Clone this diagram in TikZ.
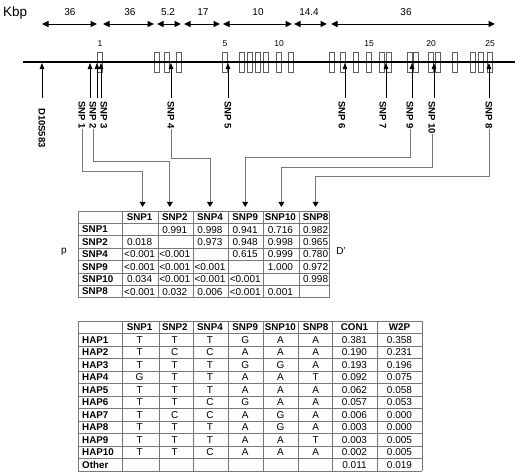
\documentclass[tikz,border=0pt]{standalone}
\usepackage{fontspec}
\setmainfont{Liberation Sans}
\usepackage{tikz}
\usetikzlibrary{arrows.meta}
\definecolor{lngray}{RGB}{120,120,120}
\definecolor{exgray}{RGB}{95,95,95}

\begin{document}
\begin{tikzpicture}[x=1pt,y=-1pt,
  font=\fontsize{10}{12}\selectfont,
  dim/.style={{Triangle[length=6.5pt,width=6pt]}-{Triangle[length=6.5pt,width=6pt]},line width=1pt},
  exon/.style={draw=exgray,line width=0.6pt},
  exnum/.style={font=\fontsize{8.5}{10}\selectfont,inner sep=0pt},
  snparr/.style={-{Triangle[length=6pt,width=4.5pt]},line width=0.8pt},
  lbl/.style={font=\bfseries\fontsize{9.5}{11}\selectfont,rotate=-90,anchor=west,inner sep=0pt},
  lead/.style={draw=lngray,line width=0.7pt,shorten >=4pt,-{Triangle[length=5pt,width=6pt,color=black]}},
  tabline/.style={draw=lngray,line width=0.7pt},
  hd/.style={font=\bfseries\fontsize{9.8}{11}\selectfont,inner sep=0pt},
  val/.style={inner sep=0pt}
]
  \useasboundingbox (0,0) rectangle (520,474);

  % distances along the locus
  \node[anchor=west,inner sep=0pt,font=\fontsize{13.5}{15}\selectfont] (kbp) at (3,13) {Kbp};
  \foreach \a/\b/\m/\t [count=\i] in {42/97/70/36,103/154/130/36,157/181/168/5.2,184/220/203/17,
      223/292/258/10,294/327/309/14.4,331/495/406/36}{
    \coordinate (da\i) at (\a,24);
    \coordinate (db\i) at (\b,24);
    \draw[dim] (da\i) -- (db\i);
    \node (dl\i) at (\m,12) {\t};
  }

  % gene with exons
  \foreach \x in {97,154,164,176,222,239,247,255,263,276,288,329,340,353,366,379,386,407,413,428,435,452,470,478,487}
    \draw[exon] (\x,52) rectangle ++(5.5,20);
  \foreach \x/\n in {100/1,225/5,279/10,369/15,431/20,490/25}
    \node[exnum] (ex\n) at (\x,44) {\n};
  \coordinate (g0) at (23,62);
  \coordinate (g1) at (515,62);
  \draw[line width=1.3pt] (g0) -- (g1);

  % markers
  \coordinate (sd) at (42,63);
  \node[lbl] (lbd) at (42,108) {D10S583};
  \draw[snparr] (sd |- 0,98) -- (sd);
  \foreach \n/\ax/\lx in {1/90/82,2/97/93,3/101/104,4/171/171,5/228/228,6/345/342,7/386/383,9/412/410,10/434/432,8/489/489}{
    \coordinate (s\n) at (\ax,63);
    \node[lbl] (lb\n) at (\lx,101) {SNP \n};
    \draw[snparr] (s\n |- 0,98) -- (s\n);
  }

  % linkage disequilibrium table
  \foreach \k in {0,...,7} \draw[tabline] (78,211+12.4*\k) -- (329,211+12.4*\k);
  \foreach \x in {78,122,158,193,228,263,299,329} \draw[tabline] (\x,211) -- (\x,297.8);
  \foreach \t [count=\c] in {SNP1,SNP2,SNP4,SNP9,SNP10,SNP8}
    \node[hd,minimum height=12.4pt] (ld-h\c) at (122+35.2*\c-17.6,217.2) {\t};
  \foreach \t [count=\r] in {SNP1,SNP2,SNP4,SNP9,SNP10,SNP8}
    \node[hd,anchor=west] (ld-r\r) at (82,217.2+12.4*\r) {\t};
  \foreach \row [count=\r] in {{,0.991,0.998,0.941,0.716,0.982},
      {0.018,,0.973,0.948,0.998,0.965},
      {<0.001,<0.001,,0.615,0.999,0.780},
      {<0.001,<0.001,<0.001,,1.000,0.972},
      {0.034,<0.001,<0.001,<0.001,,0.998},
      {<0.001,0.032,0.006,<0.001,0.001}}
    \foreach \v [count=\c] in \row
      \node[val] (ld-\r-\c) at (122+35.2*\c-17.6,217.2+12.4*\r) {\v};
  \node (pl) at (64,252) {p};
  \node (dpl) at (341,251) {D'};

  % markers to table
  \foreach \n/\h/\c/\dx in {1/171/1/3,2/161/2/-5,4/158/3/0,9/157/4/0,10/167/5/1,8/176/6/0}
    \draw[lead] (lb\n.east) -- (lb\n.east |- 0,\h) -| ([xshift=\dx pt]ld-h\c.north);

  % haplotype table
  \foreach \k in {0,...,12} \draw[tabline] (78,321+12.5*\k) -- (422,321+12.5*\k);
  \foreach \x in {78,122,159,193,228,263,298,332,377,422} \draw[tabline] (\x,321) -- (\x,471);
  \foreach \t [count=\c] in {SNP1,SNP2,SNP4,SNP9,SNP10,SNP8,CON1,W2P}
    \node[hd] (hp-h\c) at ({ifthenelse(\c<7,122+35.2*\c-17.6,332+45*\c-292.5)},327.25) {\t};
  \foreach \t [count=\r] in {HAP1,HAP2,HAP3,HAP4,HAP5,HAP6,HAP7,HAP8,HAP9,HAP10,Other}
    \node[hd,anchor=west] (hp-r\r) at (82,327.25+12.5*\r) {\t};
  \foreach \row [count=\r] in {{T,T,T,G,A,A,0.381,0.358},
      {T,C,C,A,A,A,0.190,0.231},
      {T,T,T,G,G,A,0.193,0.196},
      {G,T,T,A,A,T,0.092,0.075},
      {T,T,T,A,A,A,0.062,0.058},
      {T,T,C,G,A,A,0.057,0.053},
      {T,C,C,A,G,A,0.006,0.000},
      {T,T,T,A,G,A,0.003,0.000},
      {T,T,T,A,A,T,0.003,0.005},
      {T,T,C,A,A,A,0.002,0.005},
      {,,,,,,0.011,0.019}}
    \foreach \v [count=\c] in \row
      \node[val] (hp-\r-\c) at ({ifthenelse(\c<7,122+35.2*\c-17.6,332+45*\c-292.5)},327.25+12.5*\r) {\v};
\end{tikzpicture}
\end{document}
